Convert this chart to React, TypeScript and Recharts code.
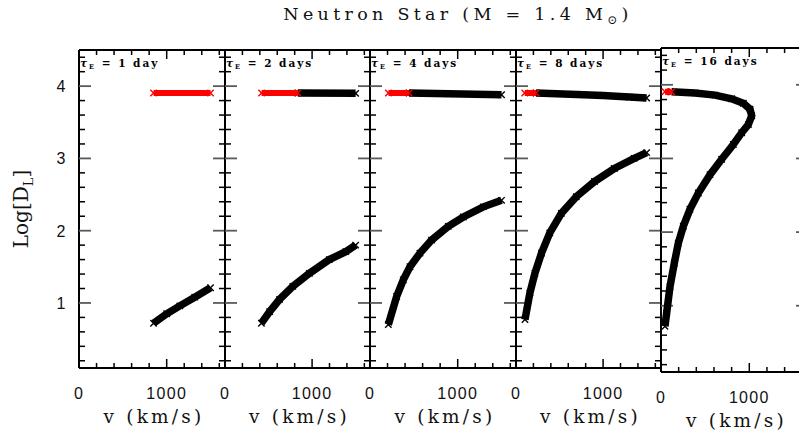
import React from 'react';
import { ScatterChart, Scatter, XAxis, YAxis } from 'recharts';

// values: [v (km/s), Log D_L]
const TAU_DAYS = [1, 2, 4, 8, 16];

const P1_RED = [[850, 3.905], [1500, 3.905]];
const P1_LOWER = [[850, 0.72], [1000, 0.85], [1150, 0.96], [1320, 1.08], [1500, 1.21]];

const P2_RED = [[420, 3.905], [836, 3.905]];
const P2_UPPER = [[836, 3.905], [1500, 3.9]];
const P2_LOWER = [
  [418, 0.72], [513, 0.88], [627, 1.05], [779, 1.23], [969, 1.41],
  [1197, 1.6], [1387, 1.71], [1500, 1.8],
];

const P3_RED = [[210, 3.905], [445, 3.905]];
const P3_UPPER = [[445, 3.905], [900, 3.895], [1500, 3.88]];
const P3_LOWER = [
  [209, 0.7], [304, 1.09], [380, 1.32], [456, 1.5], [570, 1.69],
  [703, 1.87], [893, 2.06], [1064, 2.19], [1292, 2.33], [1500, 2.42],
];

const P4_RED = [[100, 3.905], [230, 3.905]];
const P4_UPPER = [[230, 3.905], [700, 3.885], [1000, 3.87], [1300, 3.85], [1500, 3.835]];
const P4_LOWER = [
  [103, 0.77], [160, 1.14], [217, 1.41], [293, 1.69], [388, 1.97], [521, 2.24],
  [692, 2.47], [901, 2.68], [1129, 2.86], [1357, 3.0], [1500, 3.08],
];

const P5_RED = [[45, 3.905], [120, 3.905]];
const P5_CURVE = [
  [120, 3.905], [385, 3.89], [612, 3.86], [800, 3.81], [932, 3.75], [1008, 3.67],
  [1027, 3.58], [989, 3.46], [914, 3.35], [819, 3.19], [687, 2.99], [555, 2.78],
  [423, 2.53], [328, 2.31], [253, 2.08], [196, 1.85], [151, 1.58], [102, 1.26],
  [64, 0.9], [45, 0.72],
];

const X_DOMAIN = [0, 1665];
const Y_DOMAIN = [0.1, 4.5];
const X_TICKS = [200, 400, 600, 800, 1000, 1200, 1400, 1600];
const X_MAJOR = [1000];
const X_LABELED = [0, 1000];
const Y_TICKS = [
  0.2, 0.4, 0.6, 0.8, 1, 1.2, 1.4, 1.6, 1.8, 2, 2.2, 2.4, 2.6, 2.8,
  3, 3.2, 3.4, 3.6, 3.8, 4, 4.2, 4.4,
];
const Y_MAJOR = [1, 2, 3, 4];

const RED = '#ff0000';
const BLACK = '#000000';
const SERIF = '"DejaVu Serif", serif';
const SANS = '"Liberation Sans", Arial, sans-serif';

// plot boxes on the page
const LAYOUT = [
  { left: 79, top: 50, width: 146, height: 318 },
  { left: 225, top: 50, width: 145, height: 318 },
  { left: 370, top: 50, width: 146, height: 318 },
  { left: 516, top: 50, width: 145, height: 318 },
  { left: 661, top: 48, width: 147, height: 324 },
];

const toPts = (rows: number[][]) => rows.map(([v, d]) => ({ v, d }));

const PANELS = [
  { red: P1_RED, black: [P1_LOWER] },
  { red: P2_RED, black: [P2_UPPER, P2_LOWER] },
  { red: P3_RED, black: [P3_UPPER, P3_LOWER] },
  { red: P4_RED, black: [P4_UPPER, P4_LOWER] },
  { red: P5_RED, black: [P5_CURVE] },
];

// tick marks placed through the same scales as the data, on each frame edge
const X_MARKS = X_TICKS.map((v) => ({ v, major: X_MAJOR.includes(v) }));
const Y_MARKS = Y_TICKS.map((d) => ({ d, major: Y_MAJOR.includes(d) }));
const EDGE_MARKS = {
  bottom: X_MARKS.map((t) => ({ ...t, d: Y_DOMAIN[0] })),
  top: X_MARKS.map((t) => ({ ...t, d: Y_DOMAIN[1] })),
  left: Y_MARKS.map((t) => ({ ...t, v: X_DOMAIN[0] })),
  right: Y_MARKS.map((t) => ({ ...t, v: X_DOMAIN[1] })),
};

const tickShape = (edge: 'bottom' | 'top' | 'left' | 'right') => (p: any) => {
  const major = p.payload?.major;
  const vertical = edge === 'bottom' || edge === 'top';
  const len = vertical ? (major ? 9 : 5) : major ? 12 : 6;
  const dir = edge === 'bottom' || edge === 'right' ? -1 : 1;
  const d = vertical ? `M${p.cx},${p.cy}v${dir * len}` : `M${p.cx},${p.cy}h${dir * len}`;
  const grey = !vertical && major;
  return <path d={d} stroke={grey ? '#5a5a5a' : '#000'} strokeWidth={grey ? 1.8 : 1.5} fill="none" />;
};

const cross = (color: string) => (p: any) => {
  const r = 3.2;
  return (
    <path
      d={`M${p.cx - r},${p.cy - r}L${p.cx + r},${p.cy + r}M${p.cx - r},${p.cy + r}L${p.cx + r},${p.cy - r}`}
      stroke={color}
      strokeWidth={1.4}
      fill="none"
    />
  );
};

function XLabel(props: any) {
  const { x, y, payload } = props;
  return (
    <text
      x={x}
      y={y + 31}
      textAnchor="middle"
      fontFamily={SANS}
      fontSize={16}
      letterSpacing={1.3}
      fill="#111"
    >
      {payload.value}
    </text>
  );
}

function YLabel(props: any) {
  const { x, y, payload } = props;
  return (
    <text x={x - 18} y={y + 6} textAnchor="middle" fontFamily={SANS} fontSize={16} fill="#111">
      {payload.value}
    </text>
  );
}

function XTitle({ viewBox }: any) {
  return (
    <text
      x={viewBox.x + viewBox.width / 2 + 2}
      y={viewBox.y + 55}
      textAnchor="middle"
      fontFamily={SERIF}
      fontSize={18.5}
      letterSpacing={3.2}
      fill="#111"
    >
      v (km/s)
    </text>
  );
}

function YTitle({ viewBox }: any) {
  const cx = viewBox.x - 50;
  const cy = viewBox.y + viewBox.height / 2;
  return (
    <text
      x={cx}
      y={cy}
      transform={`rotate(-90, ${cx}, ${cy})`}
      textAnchor="middle"
      fontFamily={SERIF}
      fontSize={20}
      fill="#111"
    >
      Log[D
      <tspan fontSize={13} dy={5}>L</tspan>
      <tspan dy={-5}>]</tspan>
    </text>
  );
}

function Tag({ viewBox, days }: any) {
  return (
    <text
      x={viewBox.x + 1}
      y={viewBox.y + 18}
      fontFamily={SERIF}
      fontWeight="bold"
      fontSize={10.5}
      letterSpacing={2}
      fill="#000"
    >
      <tspan fontStyle="italic">τ</tspan>
      <tspan fontSize={6.5} dy={2}>E</tspan>
      <tspan dy={-2}>{` = ${days} ${days === 1 ? 'day' : 'days'}`}</tspan>
    </text>
  );
}

const FRAME = { stroke: '#000', strokeWidth: 2 };

function Panel({ index }: { index: number }) {
  const box = LAYOUT[index];
  const panel = PANELS[index];
  const first = index === 0;
  // the frame axes are 1px boxes, so the margins leave that pixel for them
  const pad = { top: 20, right: 20, bottom: 70, left: first ? box.left : 20 };
  const m = { top: pad.top - 1, right: pad.right - 1, bottom: pad.bottom - 1, left: pad.left - 1 };
  return (
    <div style={{ position: 'absolute', left: box.left - pad.left, top: box.top - pad.top }}>
      <ScatterChart
        width={pad.left + box.width + pad.right}
        height={pad.top + box.height + pad.bottom}
        margin={m}
      >
        <XAxis
          xAxisId="b"
          type="number"
          dataKey="v"
          domain={X_DOMAIN}
          ticks={X_LABELED}
          interval={0}
          height={1}
          tickSize={0}
          tickMargin={0}
          axisLine={FRAME}
          tickLine={false}
          tick={<XLabel />}
          label={{ content: (p: any) => <XTitle viewBox={p.viewBox} /> }}
        />
        <XAxis
          xAxisId="t"
          orientation="top"
          type="number"
          domain={X_DOMAIN}
          ticks={X_LABELED}
          height={1}
          tickSize={0}
          axisLine={FRAME}
          tickLine={false}
          tick={false}
          label={{ content: (p: any) => <Tag viewBox={p.viewBox} days={TAU_DAYS[index]} /> }}
        />
        <YAxis
          yAxisId="l"
          type="number"
          dataKey="d"
          domain={Y_DOMAIN}
          ticks={Y_MAJOR}
          interval={0}
          width={1}
          tickSize={0}
          tickMargin={0}
          axisLine={FRAME}
          tickLine={false}
          tick={first ? <YLabel /> : false}
          label={first ? { content: (p: any) => <YTitle viewBox={p.viewBox} /> } : undefined}
        />
        <YAxis
          yAxisId="r"
          orientation="right"
          type="number"
          domain={Y_DOMAIN}
          ticks={Y_MAJOR}
          width={1}
          tickSize={0}
          axisLine={FRAME}
          tickLine={false}
          tick={false}
        />
        {(['bottom', 'top', 'left', 'right'] as const).map((edge) => (
          <Scatter
            key={edge}
            xAxisId="b"
            yAxisId="l"
            data={EDGE_MARKS[edge]}
            shape={tickShape(edge)}
            legendType="none"
            isAnimationActive={false}
          />
        ))}
        {panel.black.map((rows, i) => (
          <Scatter
            key={`k${i}`}
            xAxisId="b"
            yAxisId="l"
            data={toPts(rows)}
            fill={BLACK}
            line={{ stroke: BLACK, strokeWidth: 7.5 }}
            shape={cross(BLACK)}
            isAnimationActive={false}
          />
        ))}
        <Scatter
          xAxisId="b"
          yAxisId="l"
          data={toPts(panel.red)}
          fill={RED}
          line={{ stroke: RED, strokeWidth: 6 }}
          shape={cross(RED)}
          isAnimationActive={false}
        />
      </ScatterChart>
    </div>
  );
}

export default function App() {
  return (
    <div
      style={{
        position: 'absolute',
        left: 0,
        top: 0,
        width: 799,
        height: 437,
        background: '#fff',
        overflow: 'hidden',
      }}
    >
      <svg width={799} height={30} style={{ position: 'absolute', left: 0, top: 0 }}>
        <text
          x={458}
          y={20}
          textAnchor="middle"
          fontFamily={SERIF}
          fontSize={17.5}
          letterSpacing={4.3}
          fill="#111"
        >
          Neutron Star (M = 1.4 M
          <tspan fontSize={12} dy={4}>⊙</tspan>
          <tspan dy={-4}>)</tspan>
        </text>
      </svg>
      {LAYOUT.map((_, i) => (
        <Panel key={i} index={i} />
      ))}
    </div>
  );
}
